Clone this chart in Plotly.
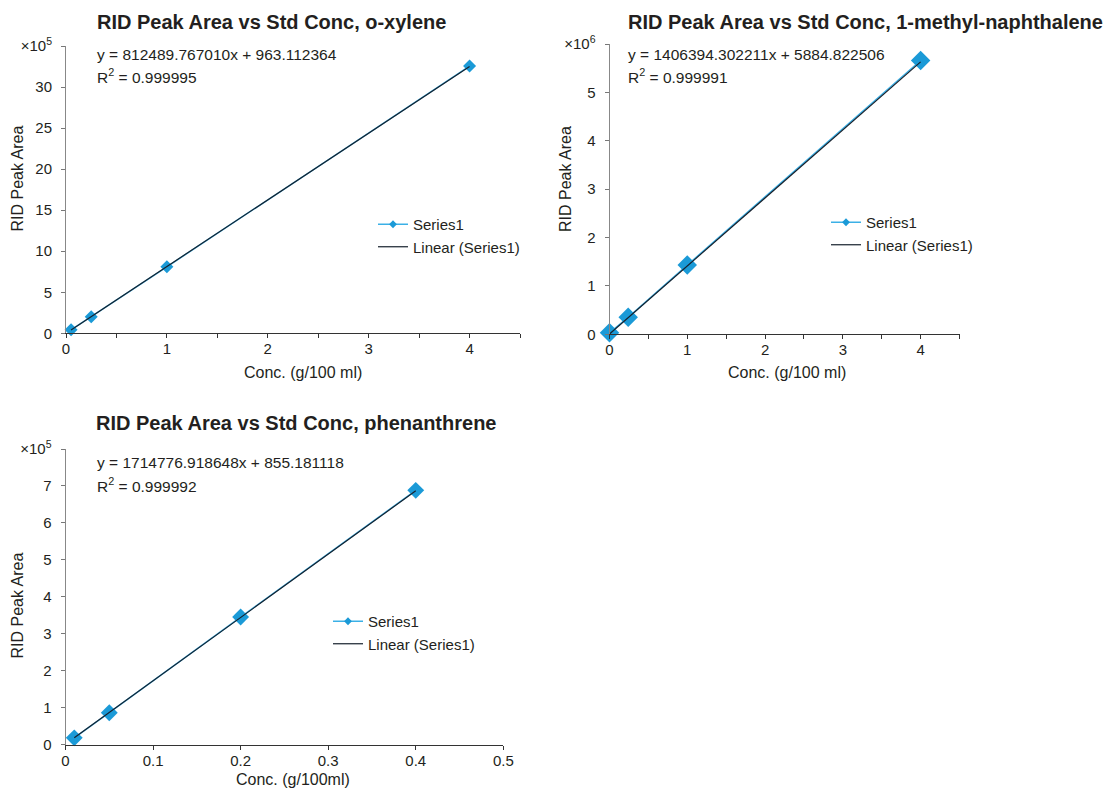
import plotly.graph_objects as go

W, H = 1113, 791

# ---------------- data ----------------
xylene_conc = [0.05, 0.25, 1.0, 4.0]
xylene_area = [0.42e5, 2.03e5, 8.10e5, 32.55e5]

mnaph_conc = [0.0, 0.24, 1.0, 4.0]
mnaph_area = [0.03e6, 0.35e6, 1.43e6, 5.66e6]

phen_conc = [0.01, 0.05, 0.2, 0.4]
phen_area = [0.18e5, 0.86e5, 3.45e5, 6.88e5]

fit_slopes = [812489.767010, 1406394.302211, 1714776.918648]
fit_intercepts = [963.112364, 5884.822506, 855.181118]
fit_r2 = [0.999995, 0.999991, 0.999992]

titles = ["RID Peak Area vs Std Conc, o-xylene",
          "RID Peak Area vs Std Conc, 1-methyl-naphthalene",
          "RID Peak Area vs Std Conc, phenanthrene"]
x_titles = ["Conc. (g/100 ml)", "Conc. (g/100 ml)", "Conc. (g/100ml)"]
y_title = "RID Peak Area"

y1_ticks = [0, 5e5, 10e5, 15e5, 20e5, 25e5, 30e5, 35e5]
y1_text = ["0", "5", "10", "15", "20", "25", "30", "×10<sup>5</sup>"]
y2_ticks = [0, 1e6, 2e6, 3e6, 4e6, 5e6, 6e6]
y2_text = ["0", "1", "2", "3", "4", "5", "×10<sup>6</sup>"]
y3_ticks = [0, 1e5, 2e5, 3e5, 4e5, 5e5, 6e5, 7e5, 8e5]
y3_text = ["0", "1", "2", "3", "4", "5", "6", "7", "×10<sup>5</sup>"]

# ---------------- style ----------------
FONT = "Liberation Sans, Arial, sans-serif"
TXT = "#231f20"
BLUE = "#1b9ad7"
BLUE_LINE = "#3bb0e6"
TREND = "#16202c"


def px(x):
    return x / W


def py(y):
    return 1 - y / H


panels = [
    dict(xs=xylene_conc, ys=xylene_area, msize=10, xd=(66, 520), yd=(46, 333.3),
         xr=[0, 4.5], yr=[0, 35e5], dtick=1, minor=0.5, yt=y1_ticks, ytt=y1_text,
         title_xy=(271.5, 21.5), eq_xy=(95, 55), xt_xy=(303, 372), yt_xy=(16.5, 179),
         leg_xy=(373, 208)),
    dict(xs=mnaph_conc, ys=mnaph_area, msize=15, xd=(609.5, 959.5), yd=(44, 334.3),
         xr=[0, 4.5], yr=[0, 6e6], dtick=1, minor=0.5, yt=y2_ticks, ytt=y2_text,
         title_xy=(865.5, 21.5), eq_xy=(626, 55), xt_xy=(787, 372), yt_xy=(565, 179),
         leg_xy=(826, 206)),
    dict(xs=phen_conc, ys=phen_area, msize=13, xd=(65.5, 503.3), yd=(449, 744.5),
         xr=[0, 0.5], yr=[0, 8e5], dtick=0.1, minor=None, yt=y3_ticks, ytt=y3_text,
         title_xy=(295.5, 422.5), eq_xy=(95, 463), xt_xy=(293, 779), yt_xy=(16.5, 606),
         leg_xy=(328, 605)),
]

fig = go.Figure()
layout = dict(template="none", width=W, height=H, margin=dict(l=0, r=0, t=0, b=0, pad=0),
              paper_bgcolor="white", plot_bgcolor="white", autosize=False,
              font=dict(family=FONT, color=TXT, size=15), annotations=[])

for i, p in enumerate(panels):
    n = "" if i == 0 else str(i + 1)
    xa, ya = "x" + n, "y" + n
    leg = "legend" + n
    m, b = fit_slopes[i], fit_intercepts[i]

    # data series
    fig.add_trace(go.Scatter(x=p["xs"], y=p["ys"], mode="lines+markers", xaxis=xa, yaxis=ya,
                             line=dict(color=BLUE_LINE, width=1.5),
                             marker=dict(symbol="diamond", size=p["msize"], color=BLUE,
                                         line=dict(width=0)),
                             cliponaxis=False, showlegend=False))
    # linear trendline over data range
    x0, x1 = min(p["xs"]), max(p["xs"])
    fig.add_trace(go.Scatter(x=[x0, x1], y=[m * x0 + b, m * x1 + b], mode="lines",
                             xaxis=xa, yaxis=ya, line=dict(color=TREND, width=1.2),
                             cliponaxis=False, showlegend=False))
    # legend entries
    fig.add_trace(go.Scatter(x=[None], y=[None], mode="lines+markers", xaxis=xa, yaxis=ya,
                             line=dict(color=BLUE_LINE, width=1.5),
                             marker=dict(symbol="diamond", size=6, color=BLUE,
                                         line=dict(width=0)),
                             name="Series1", legend=leg))
    fig.add_trace(go.Scatter(x=[None], y=[None], mode="lines", xaxis=xa, yaxis=ya,
                             line=dict(color=TREND, width=1.2),
                             name="Linear (Series1)", legend=leg))

    xaxis = dict(domain=[px(p["xd"][0]), px(p["xd"][1])], anchor=ya, range=p["xr"],
                 dtick=p["dtick"], tick0=0, ticks="outside", ticklen=4, tickcolor="#333",
                 showline=True, linecolor="#333", linewidth=1, showgrid=False, zeroline=False,
                 automargin=False, tickfont=dict(size=15, color=TXT), ticklabelstandoff=-2)
    if p["minor"]:
        xaxis["minor"] = dict(dtick=p["minor"], tick0=0, ticks="outside", ticklen=4,
                              tickcolor="#333", showgrid=False)
    yaxis = dict(domain=[py(p["yd"][1]), py(p["yd"][0])], anchor=xa, range=p["yr"],
                 tickmode="array", tickvals=p["yt"], ticktext=p["ytt"],
                 ticks="outside", ticklen=4, tickcolor="#777",
                 showline=True, linecolor="#888", linewidth=1, showgrid=False, zeroline=False,
                 automargin=False, tickfont=dict(size=15, color=TXT), ticklabelstandoff=6)
    layout["xaxis" + n] = xaxis
    layout["yaxis" + n] = yaxis
    layout[leg] = dict(x=px(p["leg_xy"][0]), y=py(p["leg_xy"][1]), xanchor="left",
                       yanchor="top", bgcolor="rgba(0,0,0,0)", font=dict(size=15, color=TXT),
                       itemwidth=30, tracegroupgap=0, borderwidth=0)

    ann = layout["annotations"]
    ann.append(dict(text="<b>" + titles[i] + "</b>", x=px(p["title_xy"][0]),
                    y=py(p["title_xy"][1]), xref="paper", yref="paper", showarrow=False,
                    xanchor="center", yanchor="middle", font=dict(size=20, color=TXT)))
    ann.append(dict(text=f"y = {m:.6f}x + {b:.6f}", x=px(p["eq_xy"][0]),
                    y=py(p["eq_xy"][1]), xref="paper", yref="paper", showarrow=False,
                    xanchor="left", yanchor="middle", font=dict(size=15.5, color=TXT)))
    ann.append(dict(text=f"R<sup>2</sup> = {fit_r2[i]:.6f}", x=px(p["eq_xy"][0]),
                    y=py(p["eq_xy"][1] + 21.5), xref="paper", yref="paper", showarrow=False,
                    xanchor="left", yanchor="middle", font=dict(size=15.5, color=TXT)))
    ann.append(dict(text=x_titles[i], x=px(p["xt_xy"][0]), y=py(p["xt_xy"][1]),
                    xref="paper", yref="paper", showarrow=False, xanchor="center",
                    yanchor="middle", font=dict(size=16, color=TXT)))
    ann.append(dict(text=y_title, x=px(p["yt_xy"][0]), y=py(p["yt_xy"][1]),
                    xref="paper", yref="paper", showarrow=False, xanchor="center",
                    yanchor="middle", textangle=-90, font=dict(size=16, color=TXT)))

fig.update_layout(**layout)
fig.write_html("out.html", config={"displayModeBar": False},
               post_script="document.body.style.margin='0';document.body.style.overflow='hidden';")
